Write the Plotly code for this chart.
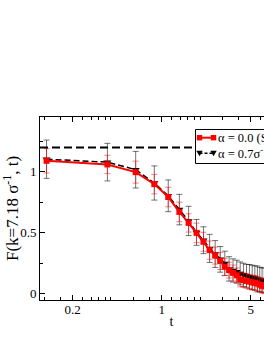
import plotly.graph_objects as go

t_vals = [0.125, 0.375, 0.625, 0.875, 1.125, 1.375, 1.625, 1.875, 2.125, 2.375,
          2.625, 2.875, 3.125, 3.375, 3.625, 3.875, 4.125, 4.375, 4.625, 4.875,
          5.125, 5.375, 5.625, 5.875, 6.125, 6.375]
f_alpha0 = [1.091, 1.061, 0.998, 0.900, 0.794, 0.672, 0.582, 0.500, 0.427, 0.359,
            0.314, 0.270, 0.222, 0.195, 0.172, 0.152, 0.118, 0.112, 0.106, 0.100,
            0.094, 0.090, 0.085, 0.075, 0.066, 0.062]
err_alpha0 = [0.10, 0.075, 0.09, 0.08, 0.08, 0.08, 0.075, 0.08, 0.078, 0.075,
              0.07, 0.07, 0.07, 0.065, 0.065, 0.06, 0.06, 0.06, 0.06, 0.06,
              0.06, 0.06, 0.06, 0.06, 0.06, 0.06]
f_alpha07 = [1.104, 1.080, 1.018, 0.909, 0.804, 0.691, 0.598, 0.504, 0.440, 0.373,
             0.327, 0.283, 0.250, 0.205, 0.192, 0.182, 0.168, 0.156, 0.148, 0.141,
             0.135, 0.130, 0.122, 0.118, 0.114, 0.112]
err_alpha07 = [0.157, 0.154, 0.150, 0.14, 0.13, 0.125, 0.12, 0.106, 0.11, 0.115,
               0.11, 0.105, 0.10, 0.10, 0.095, 0.094, 0.094, 0.095, 0.094, 0.10,
               0.10, 0.10, 0.106, 0.10, 0.10, 0.10]
plateau_level = 1.2

legend_labels = ["α = 0.0 (Sim.)", "α = 0.7σ<sup>-1</sup> (Sim.)"]

x_major = [0.2, 1, 5, 25]
x_major_text = ["0.2", "1", "5", "25"]
x_minor = [0.12, 0.16, 0.24, 0.28, 0.32, 0.36, 0.4, 0.6, 0.8, 1.2, 1.4, 1.6, 1.8,
           2, 3, 4, 6, 7, 8, 9, 10]
y_major = [0, 0.5, 1]
y_major_text = ["0", "0.5", "1"]
y_minor = [0.25, 0.75, 1.25]

FONT = "Liberation Serif"

# plot-area geometry in pixels
W, H = 320, 341
PL, PR, PT, PB = 40, 303, 117, 300


def px(xp):
    return (xp - PL) / (PR - PL)


def py(yp):
    return 1 - (yp - PT) / (PB - PT)


fig = go.Figure()
fig.add_trace(go.Scatter(
    x=t_vals, y=f_alpha07, mode="lines+markers",
    name=legend_labels[1],
    line=dict(color="black", width=1.5, dash="6px,3px"),
    marker=dict(symbol="triangle-down", size=7, color="black"),
    error_y=dict(type="data", array=err_alpha07, color="rgba(0,0,0,0.55)",
                 thickness=1, width=3),
    showlegend=False,
))
fig.add_trace(go.Scatter(
    x=t_vals, y=f_alpha0, mode="lines+markers",
    name=legend_labels[0],
    line=dict(color="red", width=2),
    marker=dict(symbol="square", size=6, color="red"),
    error_y=dict(type="data", array=err_alpha0, color="rgba(255,0,0,0.5)",
                 thickness=1, width=3),
    showlegend=False,
))
fig.add_hline(y=plateau_level, line=dict(color="black", width=2, dash="8px,4px"))

# hand-drawn legend box (Grace style: short sample line with symbols at both ends)
LX0, LX1, LY0, LY1 = 195.5, 330, 129.5, 163.5
shapes = [dict(type="rect", xref="paper", yref="paper",
               x0=px(LX0), x1=px(LX1), y0=py(LY1), y1=py(LY0),
               line=dict(color="black", width=1), fillcolor="white", layer="above")]
rows = [137.7, 153.3]
sx0, sx1 = 199.5, 213.5
# red sample
shapes.append(dict(type="line", xref="paper", yref="paper",
                   x0=px(sx0), x1=px(sx1), y0=py(rows[0]), y1=py(rows[0]),
                   line=dict(color="red", width=2), layer="above"))
for cx in (sx0, sx1):
    shapes.append(dict(type="rect", xref="paper", yref="paper",
                       x0=px(cx - 2.7), x1=px(cx + 2.7),
                       y0=py(rows[0] + 2.7), y1=py(rows[0] - 2.7),
                       line=dict(width=0), fillcolor="red", layer="above"))
# black sample
shapes.append(dict(type="line", xref="paper", yref="paper",
                   x0=px(sx0), x1=px(sx1), y0=py(rows[1]), y1=py(rows[1]),
                   line=dict(color="black", width=1.5, dash="3px,2px"), layer="above"))
for cx in (sx0, sx1):
    shapes.append(dict(type="path", xref="paper", yref="paper",
                       path=f"M {px(cx-3.2)},{py(rows[1]-2.5)} L {px(cx+3.2)},{py(rows[1]-2.5)} L {px(cx)},{py(rows[1]+3)} Z",
                       line=dict(width=0), fillcolor="black", layer="above"))

annotations = []
for lab, ry in zip(legend_labels, rows):
    annotations.append(dict(xref="paper", yref="paper", x=px(216), y=py(ry),
                            xanchor="left", yanchor="middle", text=lab, showarrow=False,
                            font=dict(family=FONT, size=12.5, color="black")))

fig.update_layout(
    width=W, height=H,
    margin=dict(l=PL, r=W - PR, t=PT, b=H - PB, autoexpand=False),
    paper_bgcolor="white", plot_bgcolor="white",
    font=dict(family=FONT, size=13, color="black"),
    showlegend=False,
    shapes=list(fig.layout.shapes) + shapes,
    annotations=annotations,
)
fig.update_xaxes(
    type="log", range=[-0.9545, 1.108],
    tickmode="array", tickvals=x_major, ticktext=x_major_text,
    ticks="inside", ticklen=5, tickwidth=1, tickcolor="black",
    minor=dict(tickvals=x_minor, ticks="inside", ticklen=3, tickcolor="black"),
    showline=True, linecolor="black", linewidth=1, mirror="allticks",
    showgrid=False, zeroline=False,
    tickfont=dict(family=FONT, size=13), ticklabelstandoff=-3,
    title=dict(text="t", font=dict(family=FONT, size=14), standoff=0),
)
fig.update_yaxes(
    range=[-0.05, 1.45],
    tickmode="array", tickvals=y_major, ticktext=y_major_text,
    ticks="inside", ticklen=5, tickwidth=1, tickcolor="black",
    minor=dict(tickvals=y_minor, ticks="inside", ticklen=3, tickcolor="black"),
    showline=True, linecolor="black", linewidth=1, mirror="allticks",
    showgrid=False, zeroline=False,
    tickfont=dict(family=FONT, size=13),
    title=dict(text="F(k=7.18 σ<sup>-1</sup>, t)", font=dict(family=FONT, size=17), standoff=2),
)

fig.write_html("out.html", config={"displayModeBar": False},
               post_script="document.body.style.margin='0';document.body.style.overflow='hidden';document.documentElement.style.overflow='hidden';")
